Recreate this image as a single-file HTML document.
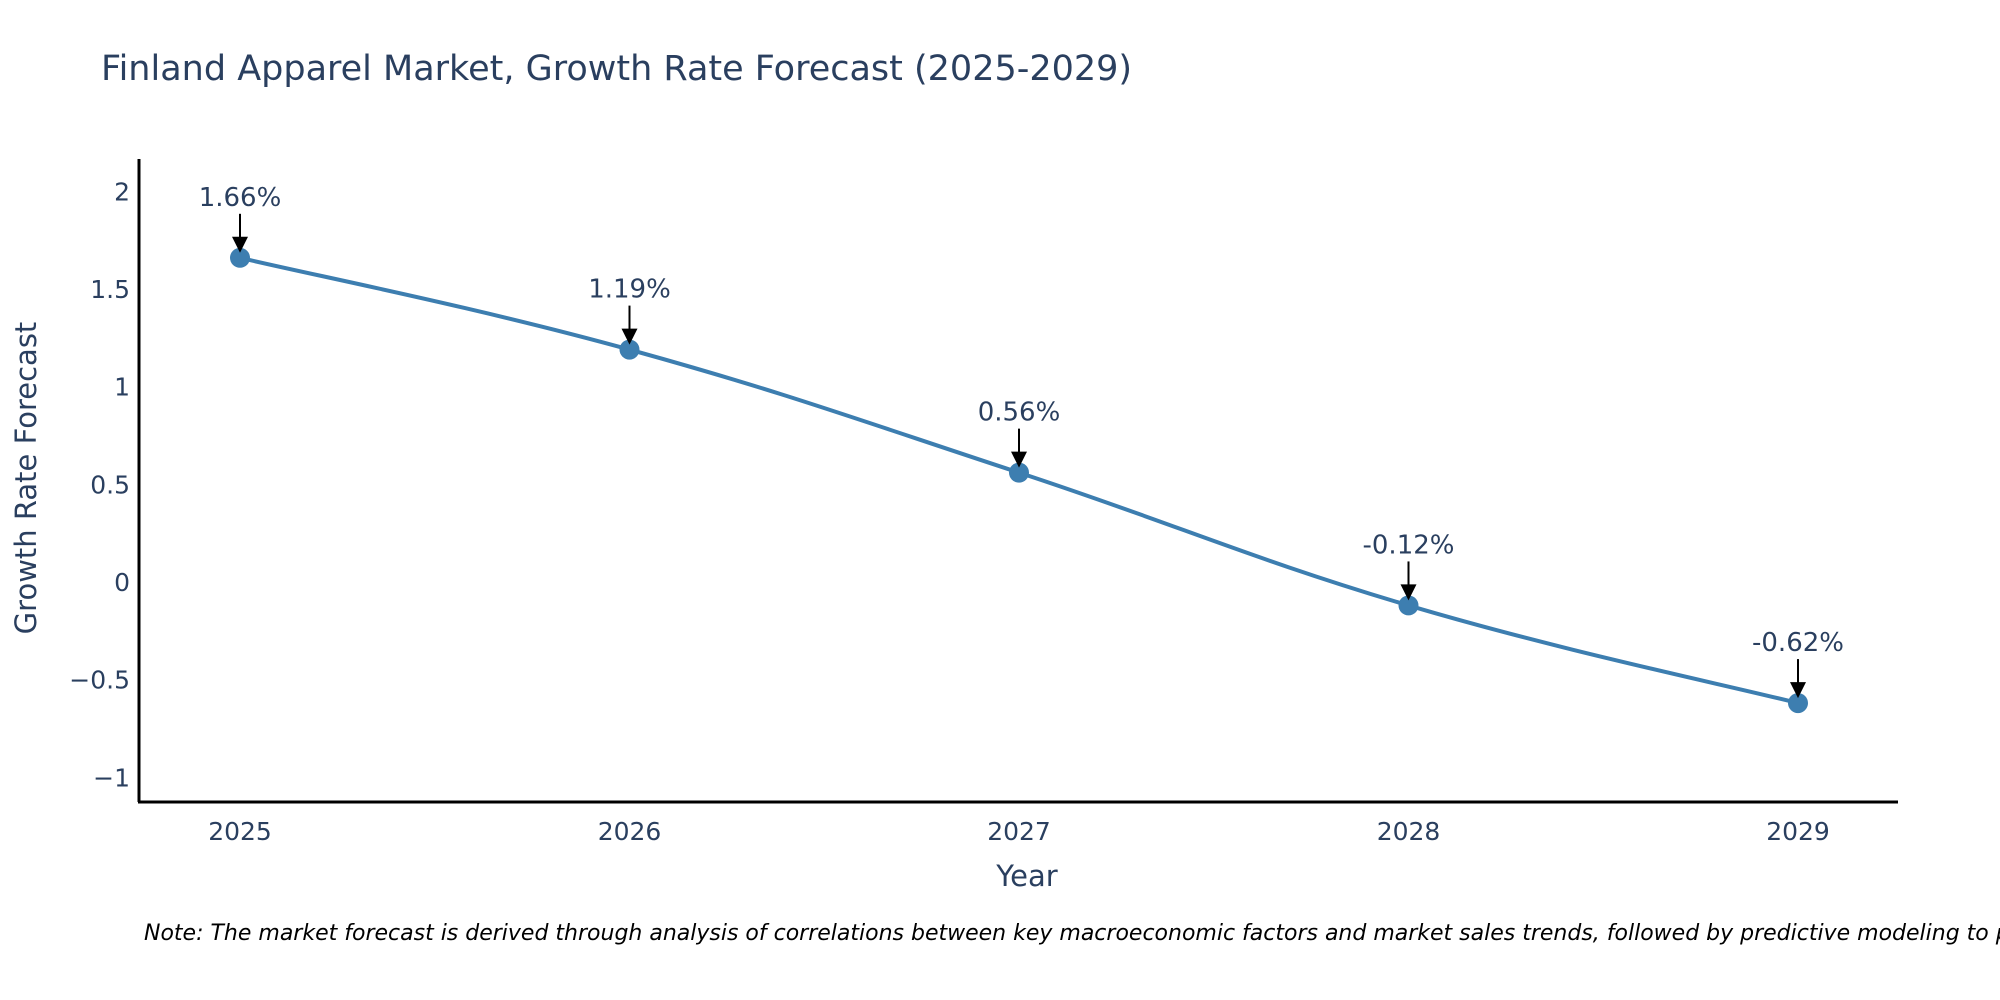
<!DOCTYPE html>
<html><head><meta charset="utf-8"><style>
body{margin:0;background:#fff;overflow:hidden;}
svg{display:block;font-family:"DejaVu Sans","Liberation Sans",sans-serif;}
</style></head><body>
<svg id="chart" width="2000" height="1000">
<text x="101" y="80" font-size="35" fill="#2a3f5f">Finland Apparel Market, Growth Rate Forecast (2025-2029)</text>
<g id="yticks"></g><g id="xticks"></g>
<line x1="139" y1="159" x2="139" y2="802" stroke="#000" stroke-width="3"/>
<line x1="138" y1="802" x2="1898" y2="802" stroke="#000" stroke-width="3"/>
<path id="line" fill="none" stroke="#3d7eb0" stroke-width="4"/>
<g id="points"></g><g id="annots"></g>
<text x="1027" y="886" font-size="29" fill="#2a3f5f" text-anchor="middle">Year</text>
<text transform="translate(36,478) rotate(-90)" font-size="29" fill="#2a3f5f" text-anchor="middle">Growth Rate Forecast</text>
<text x="144" y="940" font-size="22" font-style="italic" fill="#000">Note: The market forecast is derived through analysis of correlations between key macroeconomic factors and market sales trends, followed by predictive modeling to project future sales.</text>
</svg>
<script>
const years=["2025","2026","2027","2028","2029"];
const values=[1.66,1.19,0.56,-0.12,-0.62];
const labels=["1.66%","1.19%","0.56%","-0.12%","-0.62%"];
const yTicks=[2,1.5,1,0.5,0,-0.5,-1];
const yTickLabels=["2","1.5","1","0.5","0","\u22120.5","\u22121"];
const NS="http://www.w3.org/2000/svg";
function X(i){return 240+i*389.5;}
function Y(v){return 582-v*195.3;}
function mk(t,a,p){const e=document.createElementNS(NS,t);for(const k in a)e.setAttribute(k,a[k]);p.appendChild(e);return e;}
const yt=document.getElementById('yticks');
yTicks.forEach((v,i)=>{const t=mk('text',{x:130,y:Y(v)+9,'font-size':25,fill:'#2a3f5f','text-anchor':'end'},yt);t.textContent=yTickLabels[i];

});
const xt=document.getElementById('xticks');
years.forEach((y,i)=>{const t=mk('text',{x:X(i),y:840,'font-size':25,fill:'#2a3f5f','text-anchor':'middle'},xt);t.textContent=y;

});
const P=values.map((v,i)=>[X(i),Y(v)]);
let d=`M${P[0][0]},${P[0][1]}`;
for(let i=0;i<P.length-1;i++){const p0=P[Math.max(0,i-1)],p1=P[i],p2=P[i+1],p3=P[Math.min(P.length-1,i+2)];const s=0.2;
d+=` C${p1[0]+(p2[0]-p0[0])*s},${p1[1]+(p2[1]-p0[1])*s} ${p2[0]-(p3[0]-p1[0])*s},${p2[1]-(p3[1]-p1[1])*s} ${p2[0]},${p2[1]}`;}
document.getElementById('line').setAttribute('d',d);
const pg=document.getElementById('points'),ag=document.getElementById('annots');
P.forEach((p,i)=>{const c=mk('circle',{cx:p[0],cy:p[1],r:10,fill:'#3d7eb0'},pg);


const l=mk('line',{x1:p[0],y1:p[1]-44,x2:p[0],y2:p[1]-18,stroke:'#000','stroke-width':2},ag);


const h=mk('polygon',{points:`${p[0]-8},${p[1]-21} ${p[0]+8},${p[1]-21} ${p[0]},${p[1]-5}`,fill:'#000'},ag);


const t=mk('text',{x:p[0],y:p[1]-52,'font-size':26,fill:'#2a3f5f','text-anchor':'middle'},ag);t.textContent=labels[i];

});
</script>
</body></html>
